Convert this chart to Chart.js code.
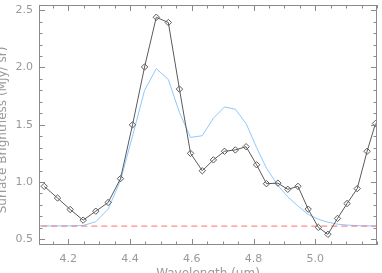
<!DOCTYPE html>
<html>
<head>
<meta charset="utf-8">
<script src="https://cdn.jsdelivr.net/npm/chart.js@4/dist/chart.umd.min.js"></script>
<style>
  html, body { margin: 0; padding: 0; background: #fff; }
  #wrap { width: 382px; height: 273px; }
</style>
</head>
<body>
<div id="wrap"><canvas id="spec" width="382" height="273"></canvas></div>
<script>
// wavelength grid of the measured spectrum (um)
const wavelength = [4.122, 4.165, 4.206, 4.248, 4.289, 4.329, 4.369, 4.408, 4.447, 4.485,
    4.524, 4.560, 4.596, 4.634, 4.670, 4.706, 4.741, 4.776, 4.810, 4.842,
    4.879, 4.911, 4.944, 4.977, 5.010, 5.041, 5.072, 5.103, 5.136, 5.168, 5.195];
// measured surface brightness (MJy/sr)
const observed = [0.962, 0.860, 0.760, 0.667, 0.745, 0.821, 1.029, 1.499, 2.004, 2.438,
    2.392, 1.811, 1.250, 1.098, 1.193, 1.268, 1.280, 1.308, 1.150, 0.985,
    0.990, 0.936, 0.962, 0.763, 0.604, 0.543, 0.682, 0.812, 0.942, 1.268, 1.510];
// model curve
const modelWave = [4.08, 4.122, 4.165, 4.206, 4.248, 4.289, 4.329, 4.369, 4.408, 4.447, 4.485,
    4.524, 4.560, 4.596, 4.634, 4.670, 4.706, 4.741, 4.776, 4.810, 4.842,
    4.879, 4.911, 4.944, 4.977, 5.010, 5.041, 5.072, 5.103, 5.136, 5.168, 5.21];
const model = [0.617, 0.617, 0.617, 0.617, 0.620, 0.653, 0.763, 1.014, 1.400, 1.800, 1.990,
    1.895, 1.606, 1.389, 1.404, 1.557, 1.655, 1.635, 1.510, 1.300, 1.120,
    0.970, 0.870, 0.790, 0.717, 0.675, 0.649, 0.632, 0.624, 0.619, 0.617, 0.616];
// continuum level
const continuumWave = [4.08, 5.21];
const continuum = [0.615, 0.615];

const xTicks = [4.2, 4.4, 4.6, 4.8, 5.0];
const yTicks = [0.5, 1.0, 1.5, 2.0, 2.5];
const xMinorStep = 0.05;
const yMinorStep = 0.1;

const axisColor = '#8a8a8a';
const textColor = '#999999';

function toPoints(xs, ys) {
    return xs.map((x, i) => ({ x: x, y: ys[i] }));
}

// IDL-style frame: box with inward ticks on all four sides, plus axis titles
const framePlugin = {
    id: 'frame',
    afterDraw(chart) {
        const ctx = chart.ctx;
        const a = chart.chartArea;
        const xs = chart.scales.x;
        const ys = chart.scales.y;
        ctx.save();
        ctx.strokeStyle = axisColor;
        ctx.lineWidth = 1;
        ctx.strokeRect(a.left + 0.5, a.top + 0.5, a.right - a.left - 1, a.bottom - a.top - 1);

        ctx.beginPath();
        const major = 6, minor = 3.5;
        for (let v = Math.ceil(xs.min / xMinorStep) * xMinorStep; v <= xs.max + 1e-9; v += xMinorStep) {
            const isMajor = xTicks.some(t => Math.abs(t - v) < 1e-6);
            const len = isMajor ? major : minor;
            const px = Math.round(xs.getPixelForValue(v)) + 0.5;
            ctx.moveTo(px, a.bottom); ctx.lineTo(px, a.bottom - len);
            ctx.moveTo(px, a.top); ctx.lineTo(px, a.top + len);
        }
        for (let v = Math.ceil(ys.min / yMinorStep) * yMinorStep; v <= ys.max + 1e-9; v += yMinorStep) {
            const isMajor = yTicks.some(t => Math.abs(t - v) < 1e-6);
            const len = isMajor ? major : minor;
            const py = Math.round(ys.getPixelForValue(v)) + 0.5;
            ctx.moveTo(a.left, py); ctx.lineTo(a.left + len, py);
            ctx.moveTo(a.right, py); ctx.lineTo(a.right - len, py);
        }
        ctx.stroke();

        ctx.fillStyle = textColor;
        ctx.font = '12px "DejaVu Sans"';
        ctx.textAlign = 'center';
        ctx.textBaseline = 'middle';
        ctx.fillText('Wavelength (\u00b5m)', (a.left + a.right) / 2, 274);
        ctx.translate(3, 130);
        ctx.rotate(-Math.PI / 2);
        ctx.fillText('Surface Brightness (MJy/ sr)', 0, 0);
        ctx.restore();
    }
};

new Chart(document.getElementById('spec'), {
    type: 'scatter',
    data: {
        datasets: [
            {
                label: 'observed',
                data: toPoints(wavelength, observed),
                showLine: true,
                borderColor: '#5a5a5a',
                borderWidth: 1,
                pointStyle: 'rectRot',
                pointRadius: 3.2,
                pointBorderWidth: 1,
                pointBorderColor: '#5a5a5a',
                pointBackgroundColor: 'rgba(255,255,255,0)',
                order: 0
            },
            {
                label: 'continuum',
                data: toPoints(continuumWave, continuum),
                showLine: true,
                borderColor: '#ff7070',
                borderWidth: 1,
                borderDash: [6, 4],
                pointRadius: 0,
                order: 1
            },
            {
                label: 'model',
                data: toPoints(modelWave, model),
                showLine: true,
                borderColor: '#8cc8ff',
                borderWidth: 1,
                pointRadius: 0,
                order: 2
            }
        ]
    },
    options: {
        responsive: false,
        animation: false,
        devicePixelRatio: 1,
        layout: { padding: { top: 3, right: 4, left: 0, bottom: 0 } },
        plugins: {
            legend: { display: false },
            tooltip: { enabled: false }
        },
        scales: {
            x: {
                type: 'linear',
                min: 4.105,
                max: 5.2,
                grid: { display: false, drawTicks: false },
                border: { display: false },
                ticks: {
                    color: textColor,
                    font: { family: 'DejaVu Sans', size: 11 },
                    padding: 8,
                    maxRotation: 0,
                    callback: v => v.toFixed(1)
                },
                afterBuildTicks: s => { s.ticks = xTicks.map(v => ({ value: v })); },
                afterFit: s => { s.height = 28; s.paddingLeft = 0; s.paddingRight = 0; }
            },
            y: {
                type: 'linear',
                min: 0.45,
                max: 2.545,
                grid: { display: false, drawTicks: false },
                border: { display: false },
                ticks: {
                    color: textColor,
                    font: { family: 'DejaVu Sans', size: 11 },
                    padding: 6,
                    callback: v => v.toFixed(1)
                },
                afterBuildTicks: s => { s.ticks = yTicks.map(v => ({ value: v })); },
                afterFit: s => { s.width = 39; s.paddingTop = 0; s.paddingBottom = 0; }
            }
        }
    },
    plugins: [framePlugin]
});
</script>
</body>
</html>
